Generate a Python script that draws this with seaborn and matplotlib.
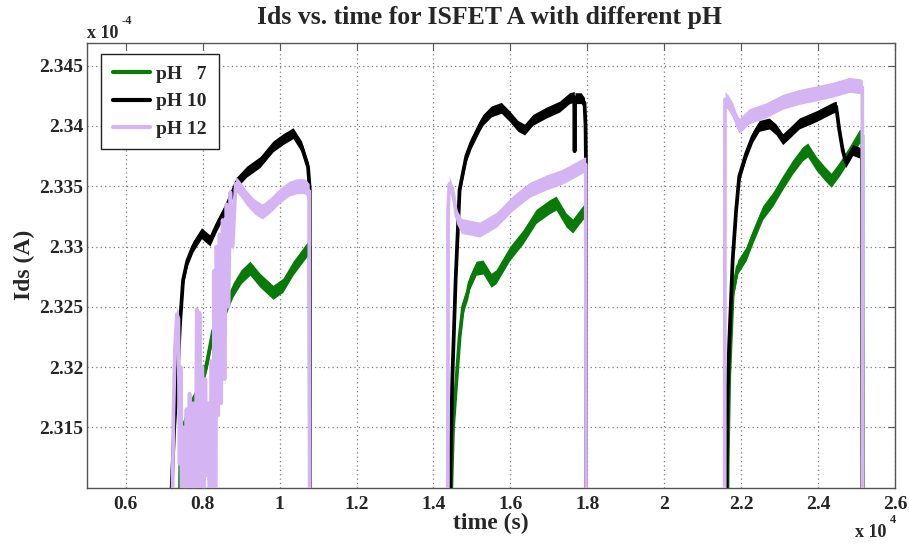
import numpy as np
import pandas as pd
import matplotlib
matplotlib.use("Agg")
import matplotlib.pyplot as plt
from matplotlib.lines import Line2D
from matplotlib.ticker import FixedLocator, FuncFormatter
import seaborn as sns

# Drain current of ISFET A over three immersion windows.
# Time in seconds, current in units of 1e-4 A (values of 2.300 lie below the plotted range).
time_pH7 = [7380, 7420, 7500, 7600, 7720, 7970, 8120, 8270, 8520, 8710, 8790, 9000, 9230, 9490,
            9830, 10090, 10350, 10700, 10782, 10790,
            14430, 14465, 14510, 14600, 14680, 14770, 14890, 14940, 15110, 15290, 15500, 15630,
            15980, 16330, 16670, 17020, 17190, 17450, 17620, 17880, 17962, 17970,
            21625, 21650, 21690, 21780, 21910, 22130, 22300, 22560, 22820, 23080, 23340, 23600,
            23730, 23950, 24160, 24340, 24550, 24810, 25070, 25152, 25160]
ids_pH7 = [2.3000, 2.3125, 2.3150, 2.3160, 2.3170, 2.3185, 2.3205, 2.3230, 2.3242, 2.3258, 2.3264,
           2.3275, 2.3282, 2.3272, 2.3262, 2.3268, 2.3282, 2.3297, 2.3300, 2.3000,
           2.3000, 2.3100, 2.3150, 2.3190, 2.3225, 2.3250, 2.3262, 2.3270, 2.3282, 2.3283, 2.3272,
           2.3275, 2.3294, 2.3308, 2.3325, 2.3333, 2.3336, 2.3322, 2.3317, 2.3328, 2.3330, 2.3000,
           2.3000, 2.3120, 2.3192, 2.3261, 2.3283, 2.3294, 2.3308, 2.3328, 2.3339, 2.3353, 2.3366,
           2.3377, 2.3380, 2.3369, 2.3361, 2.3355, 2.3364, 2.3377, 2.3391, 2.3392, 2.3000]

time_pH10 = [7185, 7195, 7260, 7340, 7410, 7490, 7600, 7750, 7970, 8190, 8360, 8620, 8880, 9140,
             9490, 9830, 10090, 10350, 10570, 10740, 10785, 10790,
             14420, 14445, 14490, 14577, 14680, 14766, 14855, 14984, 15200, 15286, 15504, 15764,
             15980, 16195, 16369, 16584, 16932, 17278, 17538, 17660, 17670, 17680, 17842, 17927,
             17955, 17965, 17970,
             21618, 21625, 21650, 21690, 21780, 21870, 21950, 22130, 22300, 22470, 22730, 22910,
             23080, 23250, 23510, 23950, 24380, 24470, 24550, 24640, 24720, 24900, 25070, 25140, 25160]
ids_pH10 = [2.3000, 2.3100, 2.3150, 2.3189, 2.3235, 2.3272, 2.3288, 2.3300, 2.3311, 2.3305, 2.3317,
            2.3333, 2.3353, 2.3362, 2.3370, 2.3383, 2.3389, 2.3394, 2.3383, 2.3366, 2.3347, 2.3000,
            2.3000, 2.3120, 2.3189, 2.3272, 2.3347, 2.3361, 2.3375, 2.3386, 2.3400, 2.3405, 2.3412,
            2.3415, 2.3408, 2.3400, 2.3397, 2.3405, 2.3411, 2.3416, 2.3423, 2.3424, 2.3379, 2.3423,
            2.3423, 2.3419, 2.3400, 2.3369, 2.3000,
            2.3000, 2.3120, 2.3180, 2.3220, 2.3289, 2.3330, 2.3358, 2.3377, 2.3391, 2.3400, 2.3402,
            2.3397, 2.3389, 2.3394, 2.3402, 2.3408, 2.3415, 2.3416, 2.3397, 2.3380, 2.3370, 2.3380,
            2.3378, 2.3376, 2.3000]

time_pH12 = [7185, 7240, 7280, 7330, 7370, 7400, 7430, 7470, 7500, 7540, 7580, 7620, 7660, 7700,
             7750, 7800, 7850, 7890, 7920, 7960, 7990, 8030, 8070, 8110, 8150, 8190, 8230, 8270,
             8300, 8330, 8360, 8400, 8440, 8480, 8520, 8570, 8620, 8670, 8720, 8780, 8860, 8970,
             9150, 9350, 9550, 9750, 10000, 10250, 10450, 10650, 10770, 10790,
             14375, 14380, 14415, 14465, 14520, 14600, 14730, 14900, 15200, 15630, 16065, 16500,
             16930, 17360, 17710, 17927, 17960, 17970,
             21570, 21580, 21650, 21780, 21870, 21950, 22210, 22650, 23080, 23510, 23950, 24380,
             24810, 25070, 25150, 25160]
ids_pH12 = [2.3000, 2.3160, 2.3215, 2.3244, 2.3240, 2.3120, 2.3200, 2.3000, 2.3150, 2.3050,
            2.3165, 2.3000, 2.3178, 2.3020, 2.3170, 2.3040, 2.3248, 2.3000, 2.3245, 2.3020,
            2.3200, 2.3090, 2.3190, 2.3110, 2.3170, 2.3030, 2.3205, 2.3000, 2.3280, 2.3000,
            2.3300, 2.3160, 2.3310, 2.3170, 2.3322, 2.3190, 2.3335, 2.3250, 2.3345, 2.3300,
            2.3352, 2.3348, 2.3340, 2.3333, 2.3329, 2.3334, 2.3342, 2.3348, 2.3350, 2.3350,
            2.3346, 2.3000,
            2.3000, 2.3330, 2.3352, 2.3347, 2.3343, 2.3325, 2.3317, 2.3316, 2.3314, 2.3322, 2.3336,
            2.3347, 2.3353, 2.3358, 2.3364, 2.3368, 2.3368, 2.3000,
            2.3000, 2.3422, 2.3420, 2.3413, 2.3405, 2.3400, 2.3408, 2.3413, 2.3420, 2.3424, 2.3427,
            2.3430, 2.3434, 2.3433, 2.3432, 2.3000]

series_labels = ["pH   7", "pH 10", "pH 12"]
x_ticks = [6000, 8000, 10000, 12000, 14000, 16000, 18000, 20000, 22000, 24000, 26000]
y_ticks = [2.315, 2.320, 2.325, 2.330, 2.335, 2.340, 2.345]

IDS_UNIT = 1e-4
colors = {"pH   7": "#087a08", "pH 10": "#000000", "pH 12": "#d5b4f4"}
noise_half_width = {"pH   7": 0.00058, "pH 10": 0.00045, "pH 12": 0.00062}

frames = []
for lab, t, v in zip(series_labels, [time_pH7, time_pH10, time_pH12],
                     [ids_pH7, ids_pH10, ids_pH12]):
    frames.append(pd.DataFrame({"time": t, "ids": np.asarray(v) * IDS_UNIT, "pH": lab}))
df = pd.concat(frames, ignore_index=True)

sns.set_theme(style="white")
plt.rcParams["font.family"] = ["Liberation Serif", "DejaVu Serif"]
plt.rcParams["font.weight"] = "bold"

fig = plt.figure(figsize=(9.09, 5.44), dpi=100)
ax = fig.add_axes([0.0960, 0.1035, 0.8886, 0.8180])

for i, lab in enumerate(series_labels):
    sub = df[df["pH"] == lab]
    hw = noise_half_width[lab] * IDS_UNIT
    ax.fill_between(sub["time"], sub["ids"] - hw, sub["ids"] + hw,
                    color=colors[lab], lw=0, zorder=2 + 2 * i)
    sns.lineplot(data=sub, x="time", y="ids", color=colors[lab], lw=2.7,
                 sort=False, estimator=None, ax=ax, legend=False, zorder=3 + 2 * i)

ax.set_xlim(5000, 26000)
ax.set_ylim(2.310e-4, 2.3469e-4)
ax.xaxis.set_major_locator(FixedLocator(x_ticks))
ax.yaxis.set_major_locator(FixedLocator([v * IDS_UNIT for v in y_ticks]))
ax.xaxis.set_major_formatter(FuncFormatter(lambda v, p: "%g" % round(v / 1e4, 4)))
ax.yaxis.set_major_formatter(FuncFormatter(lambda v, p: "%g" % round(v / IDS_UNIT, 4)))

ax.grid(True, color="#7a7a7a", lw=0.9, linestyle=(0, (1, 2.5)))
ax.set_axisbelow(True)
for s in ax.spines.values():
    s.set_color("#555555")
    s.set_linewidth(1.0)
ax.tick_params(axis="both", which="both", direction="in", length=5, width=0.8,
               color="#555555", top=True, right=True, labelsize=14)
ax.tick_params(axis="x", pad=6)
ax.tick_params(axis="y", pad=3)
for lbl in ax.get_xticklabels() + ax.get_yticklabels():
    lbl.set_fontweight("bold")

ax.set_xlabel("time (s)", fontsize=17, fontweight="bold", labelpad=0)
ax.set_ylabel("Ids (A)", fontsize=17, fontweight="bold", labelpad=3)

fig.text(0.538, 0.967, "Ids vs. time for ISFET A with different pH", ha="center", va="center",
         fontsize=18.5, fontweight="bold")

# exponent annotations for the scaled axes
fig.text(0.096, 0.939, "x 10", ha="left", va="center", fontsize=13, fontweight="bold")
fig.text(0.134, 0.961, "-4", ha="left", va="center", fontsize=9, fontweight="bold")
fig.text(0.9406, 0.022, "x 10", ha="left", va="center", fontsize=13, fontweight="bold")
fig.text(0.979, 0.044, "4", ha="left", va="center", fontsize=9, fontweight="bold")

handles = [Line2D([0], [0], color=colors[l], lw=3.0) for l in series_labels]
leg = ax.legend(handles, series_labels, loc="upper left", bbox_to_anchor=(0.017, 0.975),
                borderaxespad=0, frameon=True, fancybox=False, framealpha=1,
                edgecolor="#222222", prop={"size": 14, "weight": "bold"},
                handlelength=1.9, handletextpad=0.35, labelspacing=0.5, borderpad=0.6)
leg.get_frame().set_linewidth(1.0)

fig.savefig("out.png", dpi=100, facecolor="white")
